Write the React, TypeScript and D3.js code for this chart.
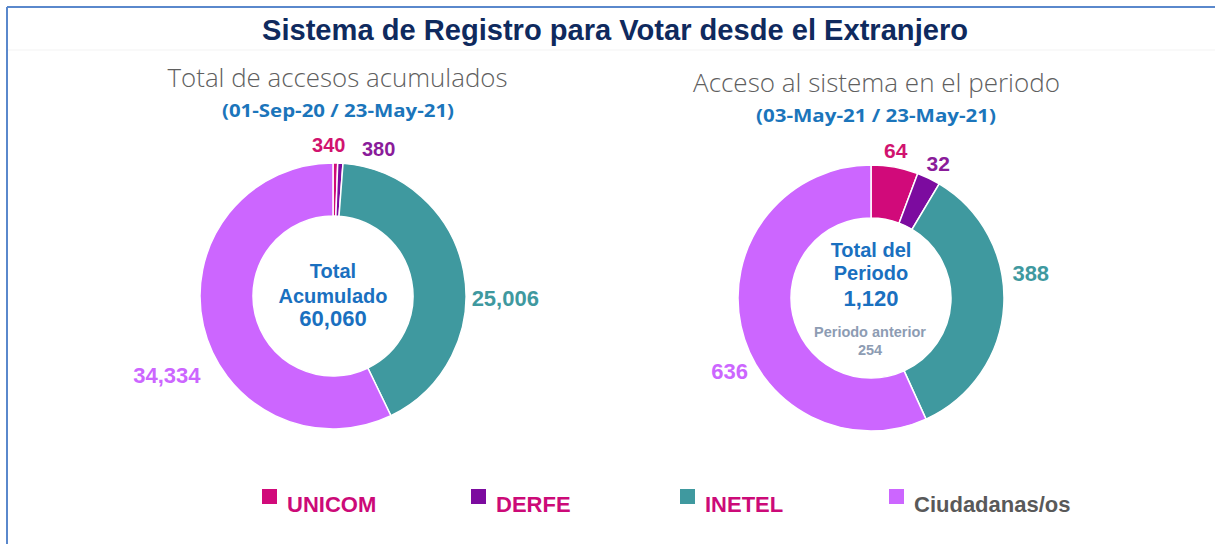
import React from "react";
import * as d3 from "d3";

const categories = ["UNICOM", "DERFE", "INETEL", "Ciudadanas/os"];
const accumulatedValues = [340, 380, 25006, 34334];
const periodValues = [64, 32, 388, 636];
const accumulatedTotal = 60060;
const periodTotal = 1120;
const previousPeriod = 254;

const title = "Sistema de Registro para Votar desde el Extranjero";
const leftTitle = "Total de accesos acumulados";
const leftDates = "(01-Sep-20 / 23-May-21)";
const rightTitle = "Acceso al sistema en el periodo";
const rightDates = "(03-May-21 / 23-May-21)";

const sliceColors = ["#d10a7a", "#7c0b9f", "#3f999f", "#cc66ff"];
const labelColors = ["#d1136f", "#8a1c9a", "#3f999f", "#cc66ff"];
const legendTextColors = ["#cc0a78", "#cc0a78", "#cc0a78", "#595959"];

const W = 1215;
const H = 544;
const R = 133;
const r0 = 80;
const LABEL_R = 155;

const fmt = d3.format(",");

type DonutProps = {
  cx: number;
  cy: number;
  values: number[];
  nudges: [number, number][];
  sizes: number[];
};

function Donut({ cx, cy, values, nudges, sizes }: DonutProps) {
  const pie = d3.pie<number>().sort(null).value((d) => d);
  const arcs = pie(values);
  const arc = d3.arc<d3.PieArcDatum<number>>().innerRadius(r0).outerRadius(R);
  return (
    <g transform={`translate(${cx},${cy})`}>
      {arcs.map((a, i) => (
        <path key={i} d={arc(a) || ""} fill={sliceColors[i]} stroke="#ffffff" strokeWidth={1.5} />
      ))}
      {arcs.map((a, i) => {
        const mid = (a.startAngle + a.endAngle) / 2;
        const x = LABEL_R * Math.sin(mid) + nudges[i][0];
        const y = -LABEL_R * Math.cos(mid) + nudges[i][1];
        return (
          <text
            key={"l" + i}
            x={x}
            y={y}
            textAnchor="middle"
            dominantBaseline="central"
            fontFamily="'Liberation Sans', Arial, sans-serif"
            fontWeight="bold"
            fontSize={sizes[i]}
            fill={labelColors[i]}
          >
            {fmt(a.data)}
          </text>
        );
      })}
    </g>
  );
}

export default function App() {
  const legendX = d3.scaleBand<string>().domain(categories).range([262, 262 + 209 * 4]).paddingInner(0).paddingOuter(0);
  const sans = "'Liberation Sans', Arial, sans-serif";
  const light = "'Open Sans', 'Noto Sans', sans-serif";
  return (
    <svg width={W} height={H} style={{ position: "absolute", left: 0, top: 0, background: "#ffffff" }}>
      <rect x={0} y={0} width={W} height={H} fill="#ffffff" />
      <line x1={7} y1={7} x2={W} y2={7} stroke="#5a88cc" strokeWidth={2} />
      <line x1={7} y1={7} x2={7} y2={H} stroke="#5a88cc" strokeWidth={2} />
      <line x1={8} y1={50} x2={W} y2={50} stroke="#f3f3f3" strokeWidth={1} />

      <text x={615} y={40} textAnchor="middle" fontFamily={sans} fontWeight="bold" fontSize={29} fill="#0f2a5e" textLength={706} lengthAdjust="spacingAndGlyphs">
        {title}
      </text>

      <text x={337.5} y={87} textAnchor="middle" fontFamily={light} fontWeight={300} fontSize={25} fill="#5f5f5f" textLength={340} lengthAdjust="spacingAndGlyphs">
        {leftTitle}
      </text>
      <text x={338} y={117} textAnchor="middle" fontFamily={light} fontWeight="bold" fontSize={17} fill="#1b75bb" textLength={232} lengthAdjust="spacingAndGlyphs">
        {leftDates}
      </text>
      <text x={876.5} y={92} textAnchor="middle" fontFamily={light} fontWeight={300} fontSize={25} fill="#5f5f5f" textLength={367} lengthAdjust="spacingAndGlyphs">
        {rightTitle}
      </text>
      <text x={876} y={122} textAnchor="middle" fontFamily={light} fontWeight="bold" fontSize={17} fill="#1b75bb" textLength={240} lengthAdjust="spacingAndGlyphs">
        {rightDates}
      </text>

      <Donut
        cx={333}
        cy={296}
        values={accumulatedValues}
        nudges={[[-7, 4], [37, 8], [20, 31], [-15, 45]]}
        sizes={[20, 20, 22, 22]}
      />
      <Donut
        cx={871}
        cy={298}
        values={periodValues}
        nudges={[[-3, 5], [0, 5], [5, -33], [10, 41]]}
        sizes={[21, 21, 22, 22]}
      />

      <g fontFamily={sans} fontWeight="bold" fill="#1a70c0" textAnchor="middle">
        <text x={333} y={278} fontSize={20}>Total</text>
        <text x={333} y={303} fontSize={20}>Acumulado</text>
        <text x={333} y={326} fontSize={22}>{fmt(accumulatedTotal)}</text>
        <text x={871} y={257} fontSize={20}>Total del</text>
        <text x={871} y={280} fontSize={20}>Periodo</text>
        <text x={871} y={306} fontSize={22}>{fmt(periodTotal)}</text>
      </g>
      <g fontFamily={sans} fontWeight="bold" fill="#8d9cb3" textAnchor="middle" fontSize={14.5}>
        <text x={870} y={337}>Periodo anterior</text>
        <text x={870} y={355}>{fmt(previousPeriod)}</text>
      </g>

      {categories.map((c, i) => (
        <g key={c} transform={`translate(${legendX(c)},0)`}>
          <rect x={0} y={489} width={15} height={15} fill={sliceColors[i]} />
          <text x={25} y={512} fontFamily={sans} fontWeight="bold" fontSize={22} fill={legendTextColors[i]}>
            {c}
          </text>
        </g>
      ))}
    </svg>
  );
}
